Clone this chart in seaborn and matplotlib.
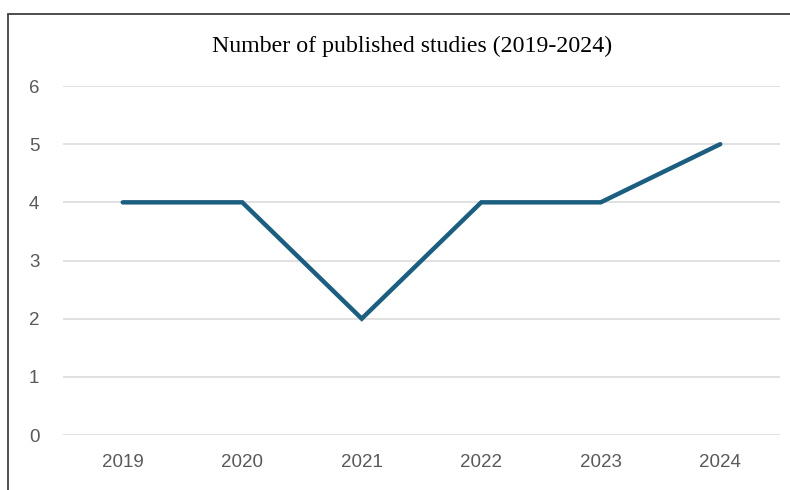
import matplotlib
matplotlib.use("Agg")
import matplotlib.pyplot as plt
import seaborn as sns
import pandas as pd
from matplotlib.patches import Rectangle

years = ["2019", "2020", "2021", "2022", "2023", "2024"]
studies = [4, 4, 2, 4, 4, 5]
y_ticks = [0, 1, 2, 3, 4, 5, 6]

sns.set_theme(style="white")
plt.rcParams["font.family"] = ["Liberation Sans", "DejaVu Sans"]

W, H = 790, 490
fig = plt.figure(figsize=(W / 100, H / 100), dpi=100)
fig.patch.set_facecolor("white")

# outer chart border (runs off the right and bottom edges)
fig.patches.append(Rectangle((8 / W, -0.05), 1.2, (1 - 14 / H) + 0.05,
                             transform=fig.transFigure, fill=False,
                             edgecolor="#3f3f3f", linewidth=1.3, zorder=0))

ax = fig.add_axes([63 / W, 1 - 435 / H, (780 - 63) / W, (435 - 86) / H])
df = pd.DataFrame({"year": years, "studies": studies})
sns.lineplot(data=df, x="year", y="studies", ax=ax, color="#1b5e80",
             linewidth=3.2, solid_capstyle="round", solid_joinstyle="miter",
             sort=False, zorder=3)

ax.set_xlim(-0.5, len(years) - 0.5)
ax.set_ylim(0, 6)
ax.set_yticks(y_ticks)
ax.set_yticklabels([str(t) for t in y_ticks])
ax.yaxis.grid(True, color="#d9d9d9", linewidth=1.1, zorder=0)
ax.xaxis.grid(False)
for s in ax.spines.values():
    s.set_visible(False)
ax.tick_params(axis="both", length=0, labelsize=13.5, labelcolor="#595959")
ax.tick_params(axis="y", pad=17)
ax.tick_params(axis="x", pad=14)
ax.set_xlabel("")
ax.set_ylabel("")
ax.set_facecolor("none")

fig.text(412 / W, 1 - 46 / H, "Number of published studies (2019-2024)",
         ha="center", va="center", fontsize=17.2,
         family=["Liberation Serif", "DejaVu Serif"], color="#000000")

fig.savefig("out.png", dpi=100)
